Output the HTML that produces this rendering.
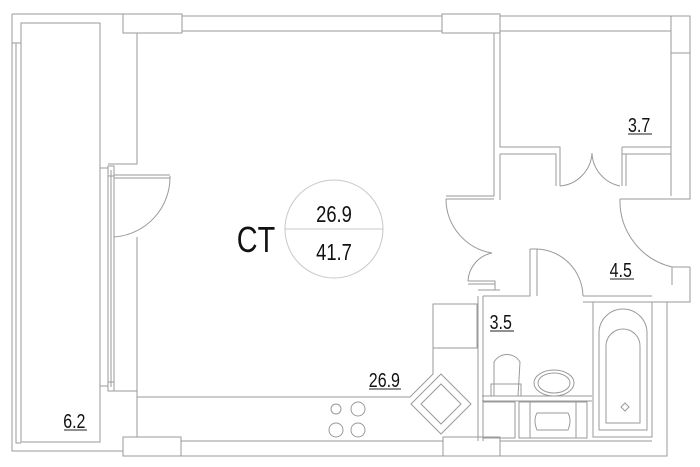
<!DOCTYPE html>
<html><head><meta charset="utf-8"><style>
html,body{margin:0;padding:0;background:#fff;}
svg{display:block;}
text{font-family:"Liberation Sans",sans-serif;fill:#111;}
</style></head><body>
<svg width="700" height="467" viewBox="0 0 700 467" xmlns="http://www.w3.org/2000/svg">
<g fill="none" stroke="#9a9a9a" stroke-width="1">
<path d="M12 14 H123 M12 14 V451 H123"/>
<path d="M16 43 V443 H21"/>
<rect x="21" y="23" width="79" height="419"/>
<path d="M12 43 H21"/>
<rect x="123" y="14" width="59" height="19"/>
<rect x="442" y="14" width="58" height="19"/>
<rect x="123" y="437" width="58" height="19"/>
<rect x="443" y="437" width="57" height="19"/>
<path d="M182 16 H442 M182 31 H442 M500 16 H671 M500 31 H671"/>
<rect x="671" y="16" width="19" height="37"/>
<path d="M671 53 V196 M690 53 V199 H620"/>
<path d="M137 33 V164 H108 M137 237 V437 M108 391 H137 M100 168 H108 M100 386 H108"/>
<path d="M108 166 V391 M111 170 V387 M114 166 V391"/>
<rect x="108" y="166" width="6" height="10"/>
<rect x="108" y="382" width="6" height="9"/>
<path d="M114 175 H170 M114 178 H170"/>
<path d="M170 176 A60 60 0 0 1 114 237"/>
<path d="M181 441 H443 M181 456 H443 M500 441 H652 M500 456 H667 V302"/>
<path d="M494 33 V196 H446 M500 33 V147 H560 V186 M500 154 V200 M500 154 H556 V186"/>
<path d="M622 147 H671 M622 154 H671 M622 147 V186 M626 154 V186"/>
<path d="M560 186 A35 35 0 0 0 592 153 M620 186 A35 35 0 0 1 592 153"/>
<path d="M446 199 H494"/>
<path d="M446 199 A55 55 0 0 0 492 253"/>
<path d="M620 199 A68 68 0 0 0 672 267"/>
<path d="M672 267 H690 M672 267 V285 M690 267 V302 H652"/>
<path d="M468 281 A30 30 0 0 1 492 253"/>
<path d="M468 281 H495 V290 M468 284 H495"/>
<path d="M478 296 V441 M483 296 V441 M478 290 H500 M483 296 H530 V249 M537 249 V296 M530 249 H537"/>
<path d="M537 249 A48 48 0 0 1 583 296"/>
<path d="M583 296 H652 M583 302 H652 V437"/>
<rect x="593" y="302" width="59" height="135"/>
<path d="M599 430 V333 A24 24 0 0 1 647 333 V430 Z"/>
<path d="M606 423 V346 A17 17 0 0 1 640 346 V423 Z"/>
<path d="M621 407 l4 -4 l4 4 l-4 4 z"/>
<path d="M494 396 V362 A15 15 0 0 1 520 362 L518 396 Z"/>
<rect x="491" y="384" width="30" height="12"/>
<path d="M482 396 H592 M482 401 H592"/>
<ellipse cx="554" cy="383" rx="20" ry="13"/>
<ellipse cx="554" cy="383" rx="16" ry="10"/>
<rect x="483" y="402" width="32" height="36"/>
<rect x="519" y="402" width="68" height="36"/>
<path d="M530 402 V438 M576 402 V438"/>
<path d="M537 413 H568 Q572 420 568 430 H537 Q533 420 537 413 Z"/>
<rect x="433" y="304" width="44" height="44"/>
<path d="M137 397 H410 L433 374 V348"/>
<path d="M441 374 L471 404 L441 434 L411 404 Z"/>
<path d="M441 384 L461 404 L441 424 L421 404 Z"/>
<circle cx="336" cy="409" r="5"/>
<circle cx="358" cy="409" r="7"/>
<circle cx="336" cy="430" r="7"/>
<circle cx="358" cy="430" r="7"/>
<circle cx="334" cy="229" r="49" stroke="#c8c8c8"/>
<path d="M285 229 H383" stroke="#c8c8c8"/>
</g>
<g transform="scale(0.8,1)">
<text x="296" y="252" font-size="36">CT</text>
<text x="417.5" y="222" font-size="23" text-anchor="middle">26.9</text>
<text x="417.5" y="260" font-size="23" text-anchor="middle">41.7</text>
<text x="785" y="132" font-size="20">3.7</text>
<text x="762" y="277" font-size="20">4.5</text>
<text x="612" y="329" font-size="20">3.5</text>
<text x="461" y="387" font-size="20">26.9</text>
<text x="79" y="428" font-size="20">6.2</text>
</g>
<g stroke="#222" stroke-width="1">
<path d="M628 134 H652 M610 279 H634 M490 331 H514 M369 389 H401 M64 430 H87"/>
</g>
</svg>
</body></html>
